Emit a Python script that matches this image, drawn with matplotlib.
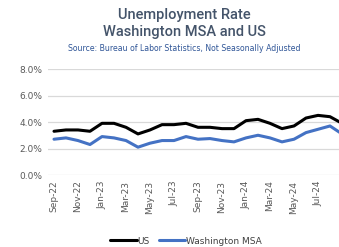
import matplotlib.pyplot as plt
import pandas as pd

# monthly data, Sep-22 .. Sep-24 (not seasonally adjusted, %)
months = pd.date_range("2022-09-01", "2024-09-01", freq="MS")
us = [3.3, 3.4, 3.4, 3.3, 3.9, 3.9, 3.6, 3.1, 3.4, 3.8, 3.8, 3.9, 3.6,
      3.6, 3.5, 3.5, 4.1, 4.2, 3.9, 3.5, 3.7, 4.3, 4.5, 4.4, 3.9]
washington = [2.7, 2.8, 2.6, 2.3, 2.9, 2.8, 2.6, 2.1, 2.4, 2.6, 2.6, 2.9, 2.7,
              2.75, 2.6, 2.5, 2.8, 3.0, 2.8, 2.5, 2.7, 3.2, 3.45, 3.7, 3.1]
yticks = [0, 2, 4, 6, 8]

labels = [m.strftime("%b-%y") for m in months]
x = list(range(len(months)))

fig = plt.figure(figsize=(3.39, 2.47), dpi=100)
# plot area runs past the right edge (the reference image is cropped)
ax = fig.add_axes([48 / 339, 72 / 247, 300 / 339, 106 / 247])

ax.plot(x, us, color="black", lw=2.2, solid_joinstyle="round",
        solid_capstyle="round", label="US", zorder=3)
ax.plot(x, washington, color="#4472C4", lw=2.2, solid_joinstyle="round",
        solid_capstyle="round", label="Washington MSA", zorder=3)

ax.set_xlim(-0.5, len(x) - 0.5)
ax.set_ylim(0, 8)
ax.set_yticks(yticks)
ax.set_yticklabels([f"{v:.1f}%" for v in yticks], color="#595959", fontsize=6.5)
# last label (Sep-24) falls outside the cropped image
ax.set_xticks(x[:-1:2])
ax.set_xticklabels(labels[:-1:2], rotation=90, color="#595959", fontsize=6.5)
ax.tick_params(length=0, pad=4)
ax.grid(axis="y", color="#D9D9D9", lw=0.9)
ax.set_axisbelow(True)
for s in ax.spines.values():
    s.set_visible(False)

title_font = dict(ha="center", va="center", fontsize=10.5, color="#44546A",
                  family="Roboto", weight="medium")
fig.text(184 / 339, 1 - 15 / 247, "Unemployment Rate", **title_font)
fig.text(184 / 339, 1 - 32 / 247, "Washington MSA and US", **title_font)
fig.text(184 / 339, 1 - 48 / 247,
         "Source: Bureau of Labor Statistics, Not Seasonally Adjusted",
         ha="center", va="center", fontsize=5.6, color="#2F5597")

fig.legend(loc="center", bbox_to_anchor=(186 / 339, 1 - 241 / 247), ncol=2,
           frameon=False, fontsize=6.5, handlelength=2.9, handletextpad=0.1,
           columnspacing=1.0, labelcolor="#404040")

fig.savefig("out.png", dpi=100)
